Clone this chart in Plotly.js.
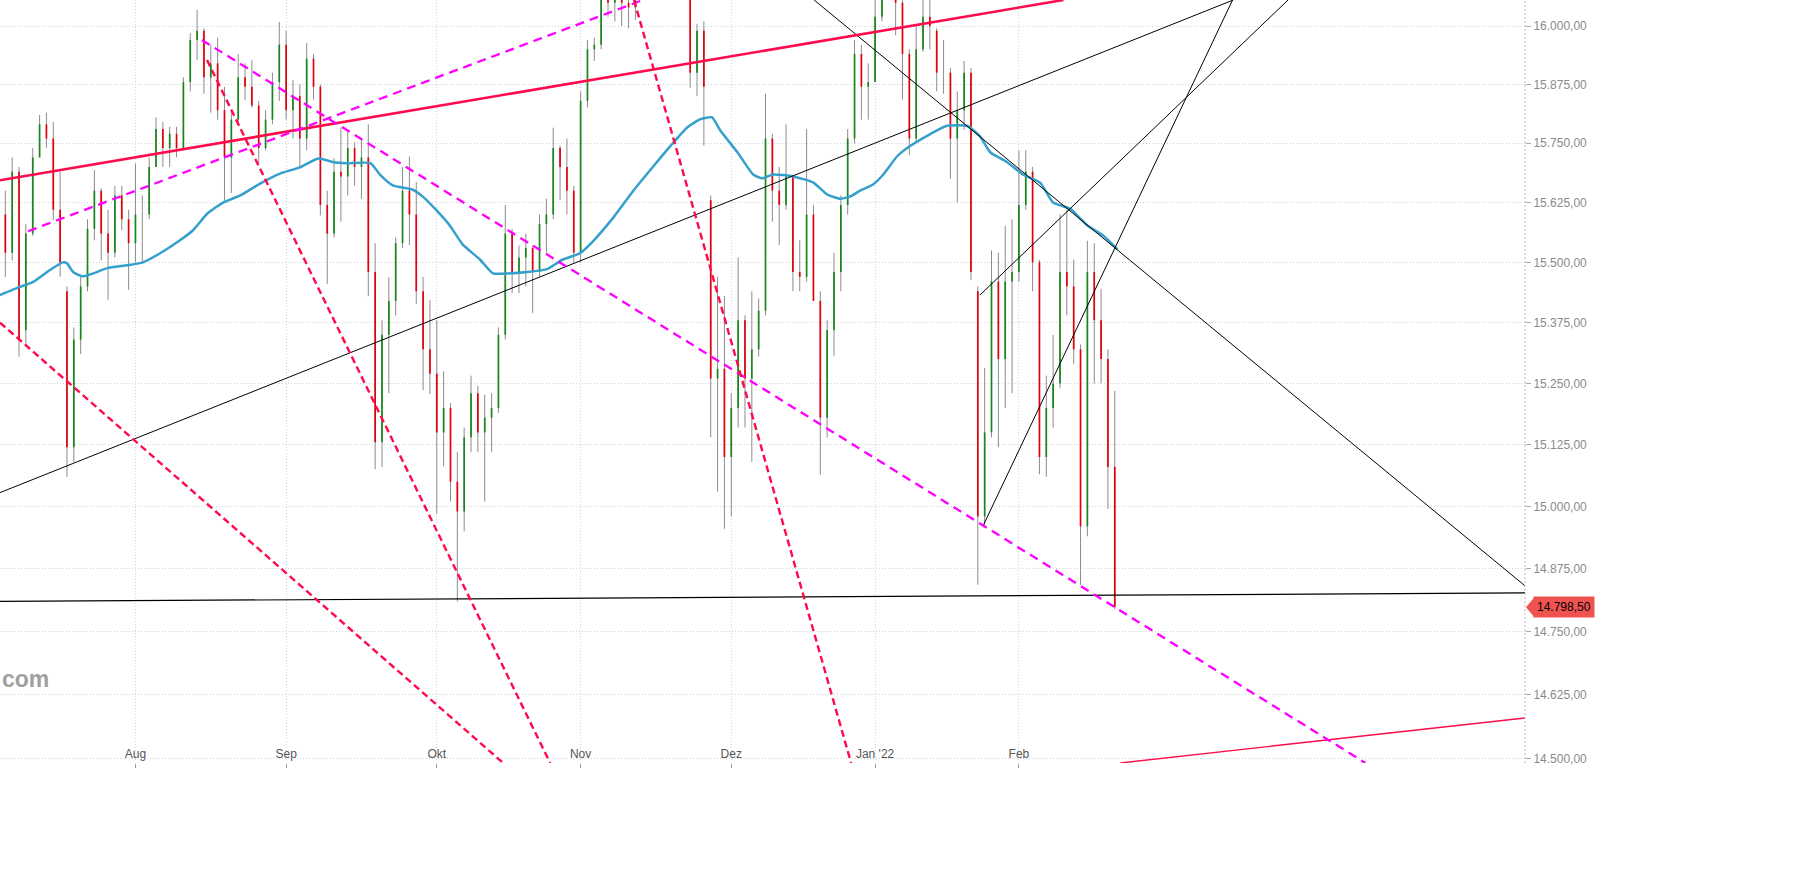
<!DOCTYPE html>
<html><head><meta charset="utf-8">
<script src="https://cdn.plot.ly/plotly-3.0.1.min.js"></script>
<style>html,body{margin:0;padding:0;background:#fff}#chart{width:1815px;height:873px}</style>
</head><body><div id="chart"></div>
<script>
// trading-day index (0 = 1 Jul 2021)
const dayIndex = [2,3,4,5,6,7,8,9,10,11,12,13,14,15,16,17,18,19,20,21,22,23,24,25,26,27,28,29,30,31,32,33,34,35,36,37,38,39,40,41,42,43,44,45,46,47,48,49,50,51,52,53,54,55,56,57,58,59,60,61,62,63,64,65,66,67,68,69,70,71,72,73,74,75,76,77,78,79,80,81,82,83,84,85,86,87,88,89,90,91,92,93,94,95,96,97,98,99,100,101,102,103,104,105,106,107,108,109,110,111,112,113,114,115,116,117,118,119,120,121,122,123,124,125,126,127,128,129,130,131,132,133,134,135,136,137,138,139,140,141,142,143,144,145,146,147,148,149,150,151,152,153,154,155,156,157,158,159,160,161,162,163,164,165];
const openP = [15620,15600,15520,15690,15360,15560,15720,15790,15760,15610,
15440,15120,15340,15450,15570,15650,15560,15520,15640,15590,
15540,15600,15600,15700,15780,15740,15770,15740,15880,15970,
15990,15890,15920,15820,15720,15800,15890,15870,15830,15740,
15800,15880,15960,15820,15850,15760,15930,15870,15620,15560,
15690,15680,15740,15700,15720,15480,15130,15350,15420,15540,
15650,15600,15440,15320,15270,15150,15200,15050,14990,15140,
15230,15150,15180,15200,15350,15560,15480,15510,15530,15480,
15580,15600,15740,15700,15650,15520,15840,15950,15960,16060,
16050,16060,16050,16040,16080,16120,16180,16240,16220,16160,
16200,16100,15900,15990,15630,15260,15280,15100,15200,15380,
15260,15320,15400,15760,15650,15620,15680,15480,15470,15600,
15420,15180,15360,15480,15620,15760,15940,15870,15880,16020,
16150,16200,16050,15940,15760,15950,16020,15990,15900,15900,
15760,15820,15900,15440,14980,15150,15460,15300,15460,15480,
15620,15690,15500,15100,15200,15250,15480,15450,15320,14960,
15480,15380,15300,15080];
const highP = [15680,15650,15720,15700,15580,15740,15810,15815,15795,15690,
15450,15365,15470,15590,15693,15655,15610,15660,15660,15610,
15707,15640,15720,15805,15795,15785,15785,15890,15985,16035,
15995,15960,15975,15870,15820,15940,15920,15927,15840,15820,
15900,16009,15990,15884,15875,15963,15940,15875,15650,15718,
15783,15778,15752,15760,15790,15540,15380,15469,15552,15700,
15722,15668,15470,15422,15380,15275,15210,15110,15160,15266,
15245,15227,15230,15365,15620,15570,15535,15560,15535,15600,
15633,15783,15745,15760,15660,15860,15970,15975,16080,16100,
16100,16100,16090,16100,16140,16200,16260,16290,16250,16240,
16230,16110,16005,16010,15640,15470,15430,15230,15510,15390,
15440,15425,15855,15770,15700,15790,15680,15546,15780,15620,
15440,15380,15520,15640,15780,15970,15960,15920,16080,16200,
16285,16210,16100,15950,16000,16100,16080,15995,15970,15910,
15860,15925,15910,15450,15282,15525,15520,15576,15590,15735,
15735,15700,15505,15266,15350,15600,15610,15506,15330,15545,
15540,15445,15320,15235];
const lowP = [15546,15470,15504,15305,15330,15555,15720,15740,15588,15470,
15060,15090,15310,15440,15546,15504,15422,15510,15567,15443,
15500,15500,15590,15700,15700,15700,15720,15735,15860,15927,
15855,15815,15800,15630,15645,15790,15841,15826,15707,15735,
15790,15840,15800,15760,15700,15735,15843,15598,15455,15552,
15585,15640,15660,15633,15430,15075,15080,15230,15390,15530,
15536,15414,15236,15228,14986,15081,15010,14810,14950,15110,
15110,15010,15110,15190,15340,15436,15436,15450,15395,15470,
15520,15590,15630,15600,15500,15500,15826,15925,15950,16020,
16010,16000,15995,16013,16060,16090,16150,16180,16140,16120,
16070,15868,15850,15745,15140,15030,14955,14980,15160,15160,
15090,15305,15390,15585,15536,15610,15440,15440,15460,15420,
15064,15140,15306,15440,15600,15750,15800,15800,15880,16010,
16100,15980,15843,15725,15750,15945,15950,15860,15855,15675,
15625,15778,15463,14843,14962,15140,15120,15200,15230,15460,
15610,15440,15065,15060,15160,15240,15390,15290,14843,14940,
15250,15250,14995,14794];
const closeP = [15600,15520,15690,15340,15560,15720,15790,15760,15610,15500,
15120,15340,15450,15570,15650,15560,15520,15640,15590,15540,
15600,15600,15700,15780,15740,15770,15740,15880,15970,15990,
15890,15920,15820,15720,15800,15890,15870,15830,15740,15800,
15880,15960,15820,15850,15760,15930,15870,15620,15560,15690,
15680,15740,15700,15720,15480,15130,15350,15420,15540,15650,
15600,15440,15320,15270,15150,15200,15050,14990,15140,15230,
15150,15180,15200,15350,15560,15480,15510,15530,15480,15580,
15600,15740,15700,15650,15520,15840,15950,15960,16060,16050,
16060,16050,16040,16080,16120,16180,16240,16220,16160,16200,
16100,15900,15990,15870,15260,15280,15100,15200,15380,15260,
15320,15400,15760,15650,15620,15680,15480,15470,15600,15420,
15180,15360,15480,15620,15760,15940,15870,15880,16020,16150,
16270,16050,15940,15760,15950,16020,16000,15900,15900,15760,
15820,15900,15480,14980,15150,15460,15300,15460,15480,15620,
15690,15500,15100,15200,15250,15480,15450,15320,14960,15480,
15380,15300,15080,14798.5];

// moving average
const maX = [2.2,5.1,7.0,9.5,11.4,12.0,12.9,14.3,15.8,17.9,20.8,23.1,25.6,28.5,30.4,32.5,34.8,37.3,40.2,43.1,46.0,48.7,50.9,52.9,56.3,57.7,59.6,62.5,64.0,66.0,67.9,69.8,72.3,74.2,76.3,79.2,82.1,84.4,86.9,88.8,91.8,94.7,97.6,100.1,102.6,104.5,106.2,107.4,109.9,112.2,113.5,115.1,118.0,121.0,123.0,124.9,126.4,127.8,129.7,131.2,133.2,135.1,138.0,140.5,143.4,145.3,146.8,149.3,151.6,154.1,156.0,158.5,161.0,163.3,165.4];
const maY = [15432,15449,15459,15484,15500,15498,15480,15471,15477,15488,15494,15500,15519,15546,15567,15602,15625,15640,15665,15686,15699,15718,15710,15708,15708,15684,15661,15652,15637,15608,15577,15537,15506,15477,15477,15480,15486,15506,15519,15544,15594,15650,15701,15744,15784,15801,15805,15777,15731,15684,15676,15684,15680,15667,15642,15633,15638,15650,15663,15684,15722,15744,15769,15787,15787,15765,15731,15710,15684,15667,15625,15612,15577,15556,15527];

// drawn trend lines: [x0, x1] in day index, [y0, y1] in price
const redSolidX = [2.22, 157.5],  redSolidY = [15672, 16056];
const redThinX = [165.8, 224.9],  redThinY = [14492, 14580];
const pinkUpX = [6.31, 96.1],     pinkUpY = [15565, 16056];
const pinkDownX = [31.7, 201.6],  pinkDownY = [15970, 14492];
const redDash1X = [2.22, 75.7],   redDash1Y = [15375, 14492];
const redDash2X = [32.45, 82.55], redDash2Y = [15927, 14492];
const redDash3X = [94.8, 126.5],  redDash3Y = [16056, 14492];
const blackHX = [2.22, 224.9],    blackHY = [14810, 14827];
const blackUpX = [2.22, 182.3],   blackUpY = [15028, 16056];
const blackDownX = [121.1, 224.9],blackDownY = [16056, 14841];
const blackD1X = [145.3, 190.3],  blackD1Y = [15432, 16056];
const blackD2X = [145.8, 182.2],  blackD2Y = [14962, 16056];

const monthTicks = [22, 44, 66, 87, 109, 130, 151];
const monthLabels = ['Aug', 'Sep', 'Okt', 'Nov', 'Dez', "Jan '22", 'Feb'];
const priceTicks = [14500,14625,14750,14875,15000,15125,15250,15375,15500,15625,15750,15875,16000];
const lastPrice = 14798.5;

const xRange = [2.22, 224.9];
const yRange = [Math.log10(14492), Math.log10(16056)];

function fmt(v){
  const s = v.toFixed(2).split('.');
  return s[0].replace(/\B(?=(\d{3})+(?!\d))/g, '.') + ',' + s[1];
}

const wx = [], wy = [], gx = [], gy = [], rx = [], ry = [];
dayIndex.forEach((d, k) => {
  wx.push(d, d, null); wy.push(lowP[k], highP[k], null);
  const o = openP[k], c = closeP[k];
  if (c >= o) { gx.push(d, d, null); gy.push(o, c, null); }
  else { rx.push(d, d, null); ry.push(c, o, null); }
});

const traces = [
  {x: wx, y: wy, mode: 'lines', line: {color: '#8c8c8c', width: 1}, hoverinfo: 'skip'},
  {x: gx, y: gy, mode: 'lines', line: {color: '#17861c', width: 1.7}, hoverinfo: 'skip'},
  {x: rx, y: ry, mode: 'lines', line: {color: '#e3000b', width: 1.7}, hoverinfo: 'skip'},
  {x: maX, y: maY, mode: 'lines', line: {color: '#35a0cc', width: 2.5, shape: 'spline', smoothing: 0.5}},
];
function seg(x, y, color, width, dash){
  traces.push({x: x, y: y, mode: 'lines', line: {color: color, width: width, dash: dash || 'solid'}, hoverinfo: 'skip'});
}
seg(blackHX, blackHY, '#000', 1.2);
seg(blackUpX, blackUpY, '#000', 1);
seg(blackDownX, blackDownY, '#000', 1);
seg(blackD1X, blackD1Y, '#000', 1);
seg(blackD2X, blackD2Y, '#000', 1);
seg(redSolidX, redSolidY, '#ff0a4b', 2.6);
seg(redThinX, redThinY, '#ff0a4b', 1.4);
seg(pinkUpX, pinkUpY, '#ff00ff', 2.3, '9px,6px');
seg(pinkDownX, pinkDownY, '#ff00ff', 2.3, '9px,6px');
seg(redDash1X, redDash1Y, '#ff0a4b', 2.4, '7px,4px');
seg(redDash2X, redDash2Y, '#ff0a4b', 2.4, '7px,4px');
seg(redDash3X, redDash3Y, '#ff0a4b', 2.4, '7px,4px');

const lastPaperY = (Math.log10(lastPrice) - yRange[0]) / (yRange[1] - yRange[0]);

const layout = {
  width: 1815, height: 873,
  margin: {l: 0, r: 290, t: 0, b: 110, pad: 0},
  paper_bgcolor: '#fff', plot_bgcolor: '#fff',
  showlegend: false,
  font: {family: 'Liberation Sans, Arial, sans-serif', size: 12, color: '#888'},
  xaxis: {
    range: xRange, tickvals: monthTicks, ticktext: monthLabels,
    ticks: 'outside', ticklen: 4, tickcolor: '#999',
    ticklabelposition: 'outside', ticklabelstandoff: -24,
    tickfont: {size: 12, color: '#555'},
    showgrid: true, gridcolor: '#cdd3dc', griddash: '1px,2px', gridwidth: 1,
    zeroline: false, showline: false, fixedrange: true
  },
  yaxis: {
    type: 'log', side: 'right', range: yRange,
    tickvals: priceTicks, ticktext: priceTicks.map(fmt),
    ticks: 'outside', ticklen: 5, tickcolor: '#aaa',
    tickfont: {size: 12, color: '#8a8a8a'},
    showgrid: true, gridcolor: '#cdd3dc', griddash: '1px,2px', gridwidth: 1,
    zeroline: false, showline: false, fixedrange: true
  },
  shapes: [
    {type: 'line', xref: 'paper', yref: 'paper', x0: 1, x1: 1, y0: 0, y1: 1,
     line: {color: '#bbb', width: 1, dash: '2px,2px'}},
    {type: 'path', xref: 'paper', yref: 'paper', xsizemode: 'pixel', ysizemode: 'pixel',
     xanchor: 1, yanchor: lastPaperY, path: 'M 1 0 L 9 9.5 L 9 -9.5 Z',
     fillcolor: '#ef5350', line: {width: 0}, layer: 'above'}
  ],
  annotations: [
    {xref: 'paper', yref: 'y', x: 1, y: Math.log10(lastPrice), xanchor: 'left', yanchor: 'middle',
     xshift: 8, text: fmt(lastPrice), showarrow: false, bgcolor: '#ef5350', borderpad: 3,
     font: {size: 12, color: '#000'}},
    {xref: 'paper', yref: 'paper', x: 0, y: 0.110, xanchor: 'left', yanchor: 'middle',
     text: '<b>com</b>', showarrow: false, font: {size: 23, color: '#a0a0a0'}}
  ]
};

Plotly.newPlot('chart', traces, layout, {staticPlot: true, displayModeBar: false});
</script>
</body></html>
